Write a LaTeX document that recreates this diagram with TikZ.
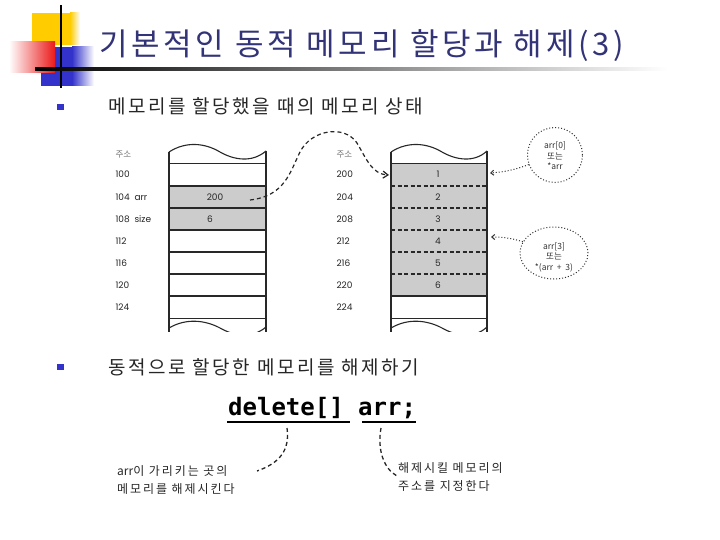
\documentclass[tikz,border=0pt]{standalone}
\usepackage{fontspec}
\setmainfont{Noto Sans CJK KR}
\newfontfamily\kr{Noto Sans CJK KR}
\newfontfamily\krtitle{Noto Sans CJK KR}[LetterSpace=12]
\newfontfamily\krbul{Noto Sans CJK KR}[LetterSpace=13.5]
\newfontfamily\krsp{Noto Sans CJK KR}[LetterSpace=16]
\newfontfamily\hand{Poppins}
\newfontfamily\mono{DejaVu Sans Mono}
\usetikzlibrary{arrows.meta,shapes.geometric}
\definecolor{tyellow}{RGB}{255,204,0}
\definecolor{tblue}{RGB}{51,51,204}
\definecolor{tred}{RGB}{235,25,25}
\definecolor{ttitle}{RGB}{51,51,119}
\definecolor{cellgray}{RGB}{204,204,204}
\definecolor{boxline}{RGB}{40,40,40}
\tikzset{
  cellline/.style={draw=boxline, line width=1.1pt},
  rowdash/.style={draw=boxline, line width=1.1pt, dash pattern=on 4pt off 2.5pt},
  addr/.style={anchor=west, font=\hand\fontsize{9}{9}\selectfont, text=black!85},
  addrhead/.style={anchor=west, font=\kr\fontsize{8.5}{8.5}\selectfont, text=black!55},
  val/.style={font=\hand\fontsize{9}{9}\selectfont, text=black!85},
  callout/.style={draw=black!80, dotted, line width=1pt, inner sep=0pt},
  calltext/.style={align=center, font=\kr\fontsize{8.5}{10.5}\selectfont, text=black!80},
  bulletbox/.style={fill=tblue},
  bullettext/.style={anchor=base west, font=\krbul\fontsize{19}{19}\selectfont, text=black!85},
  note/.style={anchor=base west, font=\krsp\fontsize{12}{12}\selectfont, text=black!85},
  handdash/.style={draw=black!85, line width=1.3pt, dash pattern=on 4pt off 3pt}
}
\begin{document}
\begin{tikzpicture}[x=1pt,y=-1pt]
\useasboundingbox (0,0) rectangle (720,540);
\fill[white] (0,0) rectangle (720,540);

% ---- title decoration
\fill[tyellow] (32,13) rectangle (70,45);
\shade[left color=tyellow, right color=white] (70,13) rectangle (80,45);
\fill[tblue] (41,47) rectangle (72,86);
\shade[left color=tblue, right color=white] (72,47) rectangle (94,86);
\shade[left color=white, right color=tred] (9,42) rectangle (55,73);
\draw[line width=1.6pt] (61,5) -- (61,88);
\shade[left color=black, right color=white] (35,67.8) rectangle (668,70.6);
\node[anchor=base west, text=ttitle, font=\krtitle\fontsize{31}{31}\selectfont, inner sep=0] (title) at (99,56) {기본적인 동적 메모리 할당과 해제(3)};

% ---- bullets
\fill[bulletbox] (57,104) rectangle (64,110);
\node[bullettext, inner sep=0] (b1) at (108,114) {메모리를 할당했을 때의 메모리 상태};
\fill[bulletbox] (57,364) rectangle (64,370);
\node[bullettext, inner sep=0] (b2) at (108,374) {동적으로 할당한 메모리를 해제하기};

% ---- left memory box
\fill[cellgray] (169,186) rectangle (266,230);
\begin{scope}
\clip (150,140) rectangle (290,331);
\draw[cellline] (169,152) .. controls (186,141) and (205,143) .. (220,152) .. controls (234,160) and (252,163) .. (266,151);
\draw[cellline] (169,152) -- (169,340);
\draw[cellline] (266,151) -- (266,340);
\foreach \yy in {163.5,186,208,230,252,274,296,318.5}
  \draw[cellline] (169,\yy) -- (266,\yy);
\draw[cellline] (169,328) .. controls (186,318) and (205,320) .. (220,328) .. controls (234,336) and (252,339) .. (266,327);
\end{scope}
\node[addrhead] (lh) at (112,155) {주소};
\node[addr] (l100) at (112,174.5) {100};
\node[addr] (l104) at (112,197) {104\ \ arr};
\node[addr] (l108) at (112,219) {108\ \ size};
\node[addr] (l112) at (112,241) {112};
\node[addr] (l116) at (112,263) {116};
\node[addr] (l120) at (112,285) {120};
\node[addr] (l124) at (112,307) {124};
\node[val] (v200) at (215,197) {200};
\node[val] (v6) at (210,219) {6};

% ---- right memory box
\fill[cellgray] (391,163.5) rectangle (487,296);
\begin{scope}
\clip (370,140) rectangle (510,331);
\draw[cellline] (391,152) .. controls (408,141) and (427,143) .. (442,152) .. controls (456,160) and (474,163) .. (487,151);
\draw[cellline] (391,152) -- (391,340);
\draw[cellline] (487,151) -- (487,340);
\draw[cellline] (391,163.5) -- (487,163.5);
\foreach \yy in {186,208,230,252,274}
  \draw[rowdash] (391,\yy) -- (487,\yy);
\draw[cellline] (391,296) -- (487,296);
\draw[cellline] (391,318.5) -- (487,318.5);
\draw[cellline] (391,328) .. controls (408,318) and (427,320) .. (442,328) .. controls (456,336) and (474,339) .. (487,327);
\end{scope}
\node[addrhead] (rh) at (333,155) {주소};
\node[addr] (r200) at (333,174.5) {200};
\node[addr] (r204) at (333,197) {204};
\node[addr] (r208) at (333,219) {208};
\node[addr] (r212) at (333,241) {212};
\node[addr] (r216) at (333,263) {216};
\node[addr] (r220) at (333,285) {220};
\node[addr] (r224) at (333,307) {224};
\node[val] (e1) at (438,174.5) {1};
\node[val] (e2) at (438,197) {2};
\node[val] (e3) at (438,219) {3};
\node[val] (e4) at (438,241) {4};
\node[val] (e5) at (438,263) {5};
\node[val] (e6) at (438,285) {6};

% ---- pointer arrow
\coordinate (pstart) at (250,200);
\coordinate (pend) at (389,175);
\draw[handdash, line width=1.2pt, -{Straight Barb[length=5pt,width=7pt]}] (pstart) .. controls (285,196) and (290,172) .. (300,152) .. controls (311,130) and (344,124) .. (357,143) .. controls (367,160) and (372,174) .. (pend);

% ---- callouts
\node[callout, circle, minimum size=55pt] (c1) at (555,155) {};
\node[calltext] (t1) at (555,156) {arr[0]\\또는\\*arr};
\node[callout, ellipse, minimum width=68pt, minimum height=52pt] (c2) at (554,253) {};
\node[calltext] (t2) at (554,257) {arr[3]\\또는\\*(arr \ + \ 3)};
\coordinate (a1) at (490,173);
\coordinate (a2) at (491,237);
\draw[draw=black!80, dotted, line width=1pt, -{Straight Barb[length=3pt,width=5pt]}] (c1.200) to[bend left=8] (a1);
\draw[draw=black!80, dotted, line width=1pt, -{Straight Barb[length=3pt,width=5pt]}] (c2.160) to[bend right=8] (a2);

% ---- delete statement
\node[anchor=base west, inner sep=0, font=\mono\bfseries\fontsize{24}{24}\selectfont] (del) at (228,415) {delete[] arr;};
\coordinate (u1a) at (227,422);
\coordinate (u1b) at (350,422);
\coordinate (u2a) at (362,422);
\coordinate (u2b) at (416,422);
\draw[line width=2pt] (u1a) -- (u1b);
\draw[line width=2pt] (u2a) -- (u2b);
\coordinate (d1s) at (287,428);
\coordinate (d1e) at (257,471);
\coordinate (d2s) at (381,428);
\coordinate (d2e) at (397,476);
\draw[handdash] (d1s) .. controls (290,450) and (280,463) .. (d1e);
\draw[handdash] (d2s) .. controls (377,450) and (384,469) .. (d2e);
\node[note, inner sep=0] (n1) at (117,475) {{\kr arr}이 가리키는 곳의};
\node[note, inner sep=0] (n2) at (117,493) {메모리를 해제시킨다};
\node[note, inner sep=0] (n3) at (398,472) {해제시킬 메모리의};
\node[note, inner sep=0] (n4) at (398,490) {주소를 지정한다};
\end{tikzpicture}
\end{document}
